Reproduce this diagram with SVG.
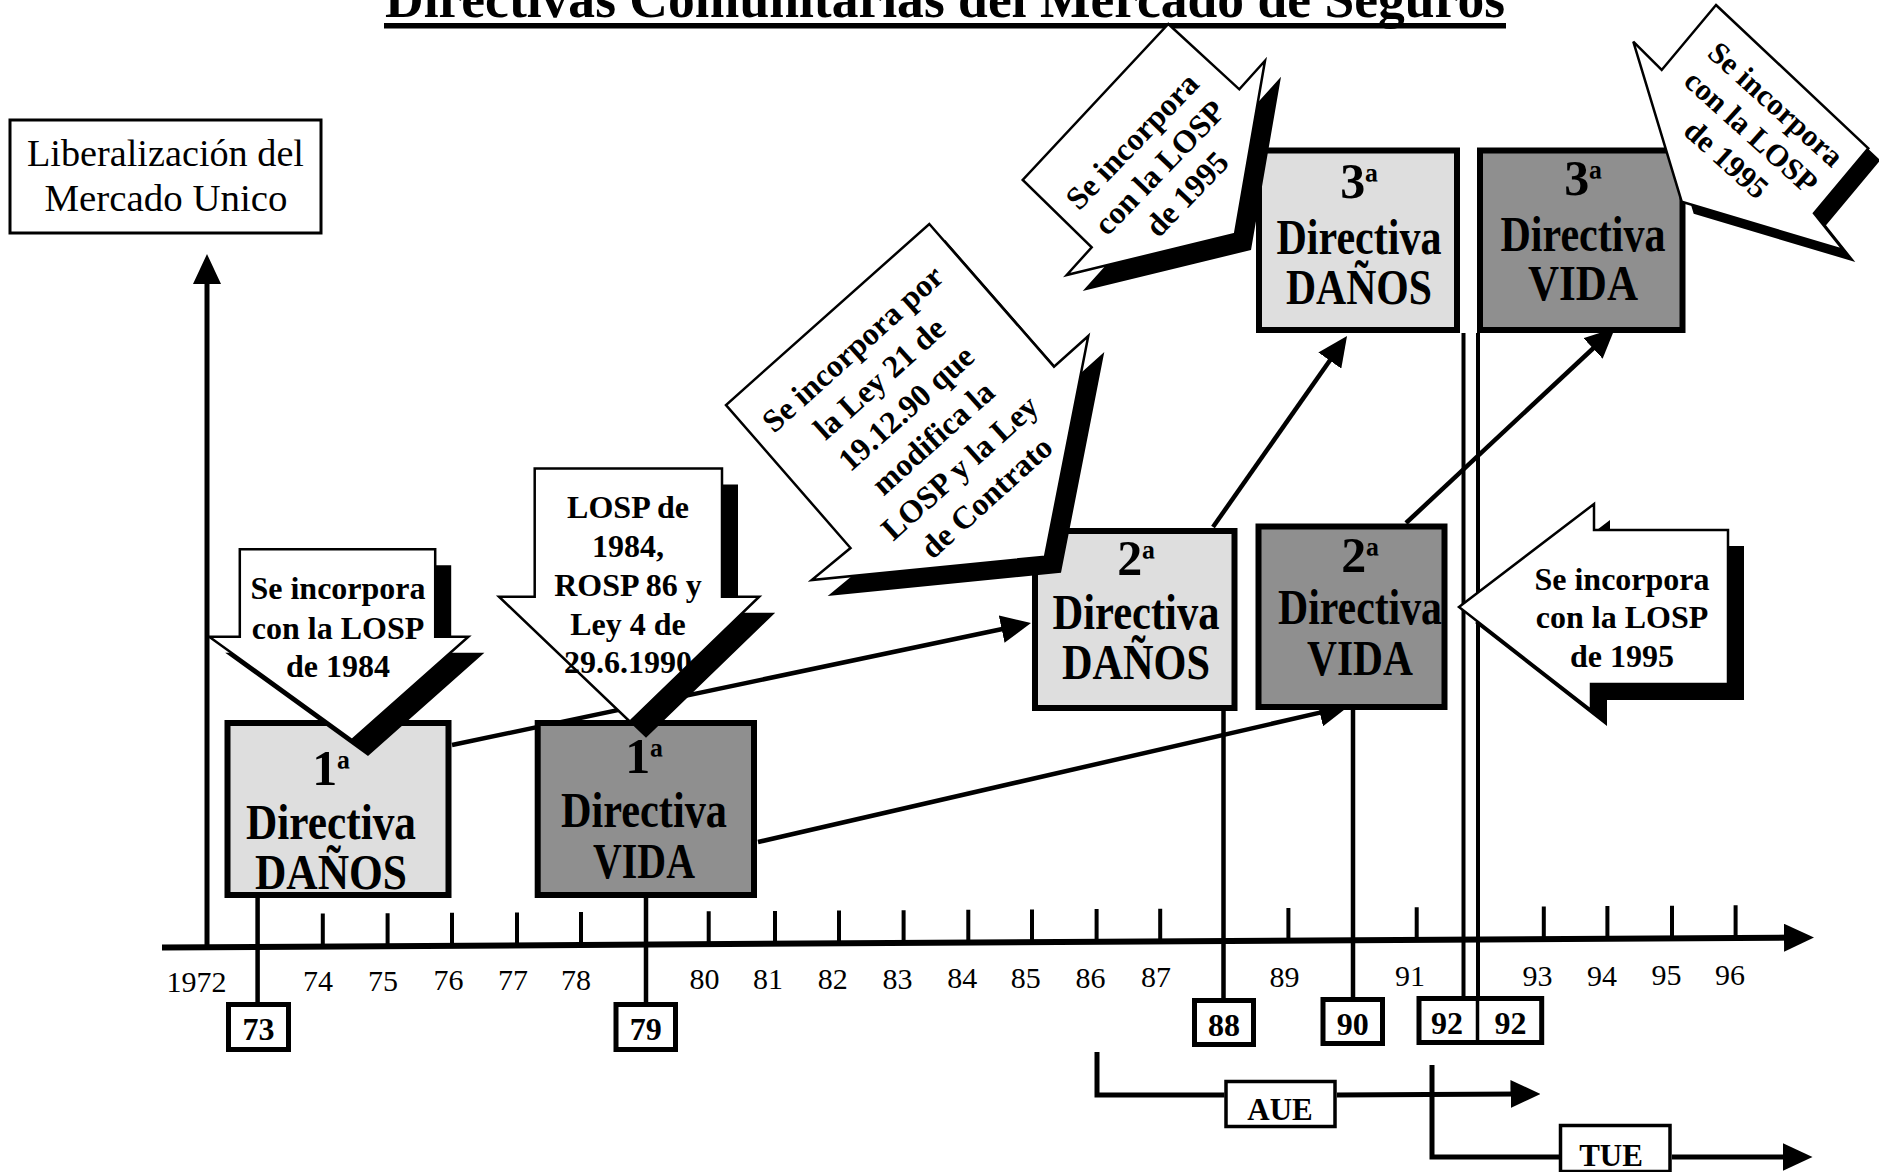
<svg xmlns="http://www.w3.org/2000/svg" width="1879" height="1172" viewBox="0 0 1879 1172">
<defs>
<marker id="ah" viewBox="0 0 30 28" refX="8" refY="14" markerWidth="30" markerHeight="28" markerUnits="userSpaceOnUse" orient="auto"><path d="M0,0 L30,14 L0,28 z" fill="#000"/></marker>
<style>
text{font-family:"Liberation Serif","Times New Roman",serif;fill:#000}
.title{font-size:54px;font-weight:bold}
.lib{font-size:38px;text-anchor:middle}
.dir{font-size:50px;font-weight:bold;text-anchor:middle}
.sup{font-size:42px}
.call{font-size:32px;font-weight:bold;text-anchor:middle}
.yr{font-size:30px;text-anchor:middle}
.yb{font-size:32px;font-weight:bold;text-anchor:middle}
.shadow{fill:#000}
.callout{fill:#fff;stroke:#000;stroke-width:2.5;stroke-linejoin:miter}
.light{fill:#dedede;stroke:#000;stroke-width:6}
.dark{fill:#8f8f8f;stroke:#000;stroke-width:6}
.ybox{fill:#fff;stroke:#000;stroke-width:5}
.ebox{fill:#fff;stroke:#000;stroke-width:3.5}
</style>
</defs>
<rect width="1879" height="1172" fill="#fff"/>

<g id="title">
<text class="title" x="385" y="17" textLength="1120" lengthAdjust="spacingAndGlyphs">Directivas Comunitarias del Mercado de Seguros</text>
<rect x="384" y="23" width="1122" height="5.5" fill="#000"/>
</g>

<g id="n-liberalizacion">
<rect x="10" y="120" width="311" height="113" fill="#fff" stroke="#000" stroke-width="3"/>
<text class="lib" x="165.5" y="166" textLength="277" lengthAdjust="spacingAndGlyphs">Liberalización del</text>
<text class="lib" x="166" y="211" textLength="243" lengthAdjust="spacingAndGlyphs">Mercado Unico</text>
</g>

<g id="connectors" stroke="#000" fill="none">
<line x1="207" y1="947" x2="207" y2="276" stroke-width="5" marker-end="url(#ah)"/>
<line x1="162" y1="947.5" x2="1792" y2="937.6" stroke-width="6" marker-end="url(#ah)"/>
<path stroke-width="4" d="M322.8,946.6v-33 M387.6,946.2v-33 M452,945.8v-33 M517,945.4v-33 M581,945v-33 M708.7,944.3v-33 M775,943.9v-33 M839,943.5v-33 M903.6,943.2v-33 M968.3,942.8v-33 M1032,942.4v-33 M1096.6,942v-33 M1160.2,941.7v-33 M1288.4,940.9v-33 M1416.7,940.2v-33 M1543.8,939.4v-33 M1607.4,939v-33 M1672,938.7v-33 M1735.6,938.3v-33"/>
<path stroke-width="4.5" d="M257.6,898V1002 M646,898V1002 M1223.5,711V998 M1353,707V997"/>
<path stroke-width="4" d="M1463.5,333V996 M1478,333V996"/>
<line x1="452" y1="745" x2="1009.5" y2="627.5" stroke-width="4.5" marker-end="url(#ah)"/>
<line x1="758" y1="842" x2="1327.6" y2="710.9" stroke-width="4.5" marker-end="url(#ah)"/>
<line x1="1213" y1="527" x2="1334.4" y2="354" stroke-width="4.5" marker-end="url(#ah)"/>
<line x1="1406" y1="523" x2="1598.9" y2="343" stroke-width="4.5" marker-end="url(#ah)"/>
<path stroke-width="5" d="M1097,1052V1095H1224.5"/>
<line x1="1337" y1="1095" x2="1518.5" y2="1094" stroke-width="5" marker-end="url(#ah)"/>
<path stroke-width="5" d="M1432,1065V1157H1559"/>
<line x1="1672" y1="1157" x2="1790.5" y2="1157" stroke-width="5" marker-end="url(#ah)"/>
</g>

<g id="n-dir1-danos">
<rect class="light" x="227.5" y="723" width="221" height="172"/>
<text class="dir" x="331" y="785">1<tspan class="sup">ª</tspan></text>
<text class="dir" x="331" y="839" textLength="170" lengthAdjust="spacingAndGlyphs">Directiva</text>
<text class="dir" x="331" y="889" textLength="152" lengthAdjust="spacingAndGlyphs">DAÑOS</text>
</g>
<g id="n-dir1-vida">
<rect class="dark" x="537.7" y="723" width="216.3" height="172"/>
<text class="dir" x="644" y="773">1<tspan class="sup">ª</tspan></text>
<text class="dir" x="644" y="827" textLength="166" lengthAdjust="spacingAndGlyphs">Directiva</text>
<text class="dir" x="644" y="878" textLength="102" lengthAdjust="spacingAndGlyphs">VIDA</text>
</g>
<g id="n-dir2-danos">
<rect class="light" x="1035" y="531" width="199.5" height="177"/>
<text class="dir" x="1136" y="575">2<tspan class="sup">ª</tspan></text>
<text class="dir" x="1136" y="629" textLength="167" lengthAdjust="spacingAndGlyphs">Directiva</text>
<text class="dir" x="1136" y="679" textLength="148" lengthAdjust="spacingAndGlyphs">DAÑOS</text>
</g>
<g id="n-dir2-vida">
<rect class="dark" x="1258.5" y="526.5" width="186" height="180.5"/>
<text class="dir" x="1360" y="572">2<tspan class="sup">ª</tspan></text>
<text class="dir" x="1360" y="624" textLength="164" lengthAdjust="spacingAndGlyphs">Directiva</text>
<text class="dir" x="1360" y="675" textLength="106" lengthAdjust="spacingAndGlyphs">VIDA</text>
</g>
<g id="n-dir3-danos">
<rect class="light" x="1259" y="150.5" width="198" height="179.5"/>
<text class="dir" x="1359" y="198">3<tspan class="sup">ª</tspan></text>
<text class="dir" x="1359" y="254" textLength="165" lengthAdjust="spacingAndGlyphs">Directiva</text>
<text class="dir" x="1359" y="304" textLength="146" lengthAdjust="spacingAndGlyphs">DAÑOS</text>
</g>
<g id="n-dir3-vida">
<rect class="dark" x="1480" y="150.5" width="202.5" height="179.5"/>
<text class="dir" x="1583" y="195">3<tspan class="sup">ª</tspan></text>
<text class="dir" x="1583" y="251" textLength="165" lengthAdjust="spacingAndGlyphs">Directiva</text>
<text class="dir" x="1583" y="300" textLength="110" lengthAdjust="spacingAndGlyphs">VIDA</text>
</g>

<g id="n-callout-losp1984">
<polygon class="shadow" points="255.8,565.3 451.2,565.3 451.2,652.7 484.4,652.7 368,756 225.2,652.7 255.8,652.7"/>
<polygon class="callout" points="239.8,549.3 435.2,549.3 435.2,636.7 468.4,636.7 352,740 209.2,636.7 239.8,636.7"/>
<text class="call" x="338" y="599">Se incorpora</text>
<text class="call" x="338" y="638.5">con la LOSP</text>
<text class="call" x="338" y="677">de 1984</text>
</g>
<g id="n-callout-rosp">
<polygon class="shadow" points="550.7,484.5 738,484.5 738,612.7 775.2,612.7 646,737.7 515,612.7 550.7,612.7"/>
<polygon class="callout" points="534.7,468.5 722,468.5 722,596.7 759.2,596.7 630,721.7 499,596.7 534.7,596.7"/>
<text class="call" x="628" y="518">LOSP de</text>
<text class="call" x="628" y="557">1984,</text>
<text class="call" x="628" y="596">ROSP 86 y</text>
<text class="call" x="628" y="635">Ley 4 de</text>
<text class="call" x="628" y="673">29.6.1990</text>
</g>
<g id="n-callout-ley21">
<polygon class="shadow" points="945.3,240 1070,382.7 1104.3,352 1061,572.7 827.7,596 866.5,564 742,421"/>
<polygon class="callout" points="929.3,224 1054,366.7 1088.3,336 1045,556.7 811.7,580 850.5,548 726,405"/>
<g transform="translate(920,423.5) rotate(-42)">
<text class="call" x="0" y="-90">Se incorpora por</text>
<text class="call" x="0" y="-50">la Ley 21 de</text>
<text class="call" x="0" y="-10">19.12.90 que</text>
<text class="call" x="0" y="30">modifica la</text>
<text class="call" x="0" y="70">LOSP y la Ley</text>
<text class="call" x="0" y="110">de Contrato</text>
</g>
</g>
<g id="n-callout-1995-danos">
<polygon class="shadow" points="1184.3,40 1255.3,105.3 1281,76.7 1251,250 1082.7,291 1107.7,263.3 1038.7,196"/>
<polygon class="callout" points="1168.3,24 1239.3,89.3 1265,60.7 1235,234 1066.7,275 1091.7,247.3 1022.7,180"/>
<g transform="translate(1160,168) rotate(-46)">
<text class="call" x="0" y="-28">Se incorpora</text>
<text class="call" x="0" y="10">con la LOSP</text>
<text class="call" x="0" y="48">de 1995</text>
</g>
</g>
<g id="n-callout-1995-vida3">
<polygon class="shadow" points="1728,17 1880.3,160.3 1826,225.3 1855.3,262 1693.7,213.7 1645.3,53.7 1673.7,82"/>
<polygon class="callout" points="1716,5 1868.3,148.3 1814,213.3 1843.3,250 1681.7,201.7 1633.3,41.7 1661.7,70"/>
<g transform="translate(1751,132) rotate(42)">
<text class="call" x="0" y="-27" style="font-size:31px">Se incorpora</text>
<text class="call" x="0" y="10" style="font-size:31px">con la LOSP</text>
<text class="call" x="0" y="47" style="font-size:31px">de 1995</text>
</g>
</g>
<g id="n-callout-1995-vida2">
<polygon class="shadow" points="1475,623 1610,520 1610,546 1744,546 1744,700 1607,700 1607,726"/>
<polygon class="callout" points="1459,607 1594,504 1594,530 1728,530 1728,684 1591,684 1591,710"/>
<text class="call" x="1622" y="590">Se incorpora</text>
<text class="call" x="1622" y="628">con la LOSP</text>
<text class="call" x="1622" y="667">de 1995</text>
</g>

<g id="n-y73"><rect class="ybox" x="228.5" y="1004.5" width="60" height="45"/><text class="yb" x="258.5" y="1040">73</text></g>
<g id="n-y79"><rect class="ybox" x="616" y="1004.5" width="59.5" height="45"/><text class="yb" x="645.7" y="1040">79</text></g>
<g id="n-y88"><rect class="ybox" x="1194.5" y="1000.5" width="59" height="44"/><text class="yb" x="1224" y="1036">88</text></g>
<g id="n-y90"><rect class="ybox" x="1323" y="999.5" width="59.5" height="44"/><text class="yb" x="1352.7" y="1035">90</text></g>
<g id="n-y92">
<rect class="ybox" x="1419" y="998.5" width="122.7" height="44"/>
<line x1="1477.5" y1="998" x2="1477.5" y2="1043" stroke="#000" stroke-width="3.5"/>
<text class="yb" x="1447" y="1034">92</text>
<text class="yb" x="1510.6" y="1034">92</text>
</g>
<g id="n-aue"><rect class="ebox" x="1226" y="1081.5" width="109" height="45"/><text class="yb" x="1280" y="1120" style="font-size:31px">AUE</text></g>
<g id="n-tue"><rect class="ebox" x="1560.5" y="1125.5" width="109.5" height="46"/><text class="yb" x="1611" y="1166" style="font-size:31px">TUE</text></g>

<g id="axis-labels">
<text class="yr" x="196.4" y="991.5">1972</text>
<text class="yr" x="318" y="991">74</text>
<text class="yr" x="383" y="990.7">75</text>
<text class="yr" x="448.5" y="990.4">76</text>
<text class="yr" x="513" y="990.2">77</text>
<text class="yr" x="576" y="989.9">78</text>
<text class="yr" x="704.5" y="989.3">80</text>
<text class="yr" x="768" y="989.1">81</text>
<text class="yr" x="832.8" y="988.8">82</text>
<text class="yr" x="897.5" y="988.5">83</text>
<text class="yr" x="962.2" y="988.3">84</text>
<text class="yr" x="1025.8" y="988">85</text>
<text class="yr" x="1090.5" y="987.7">86</text>
<text class="yr" x="1156" y="987.4">87</text>
<text class="yr" x="1284.6" y="986.9">89</text>
<text class="yr" x="1410" y="986.4">91</text>
<text class="yr" x="1537.4" y="985.8">93</text>
<text class="yr" x="1602" y="985.5">94</text>
<text class="yr" x="1666.6" y="985.3">95</text>
<text class="yr" x="1730" y="985">96</text>
</g>
</svg>
